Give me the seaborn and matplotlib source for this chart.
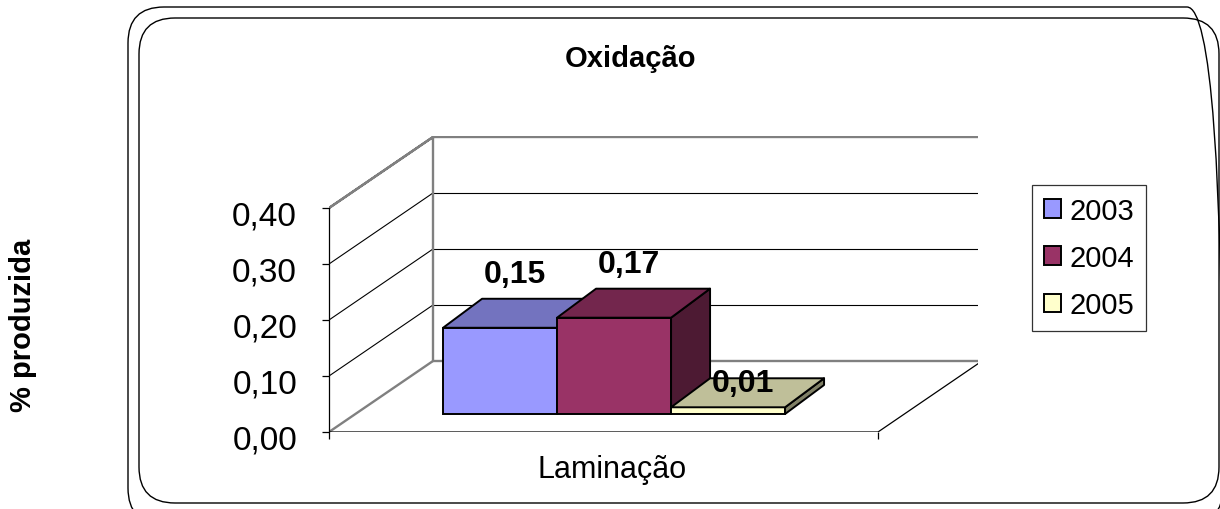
import numpy as np
import pandas as pd
import matplotlib
matplotlib.use("Agg")
import matplotlib.pyplot as plt
import matplotlib.colors as mcolors
import matplotlib.transforms as mtransforms
from matplotlib.patches import Polygon, Patch, FancyBboxPatch, Rectangle
import seaborn as sns

# data
CATEGORIES = ["Laminação"]
YEARS = ["2003", "2004", "2005"]
VALUES = [0.154, 0.172, 0.012]
VALUE_LABELS = ["0,15", "0,17", "0,01"]
YTICKS = [0.0, 0.1, 0.2, 0.3, 0.4]
YTICK_LABELS = ["0,00", "0,10", "0,20", "0,30", "0,40"]
COLORS = ["#9999FF", "#993366", "#FFFFCC"]
LABEL_OFFSETS = [22.7, 22.7, 1.0]   # points above the bar top

sns.set_theme(style="white")
plt.rcParams["font.family"] = ["Liberation Sans", "DejaVu Sans"]
plt.rcParams.update({"text.color": "black", "axes.labelcolor": "black",
                     "xtick.color": "black", "ytick.color": "black"})

W, H = 1220, 510
fig = plt.figure(figsize=(W / 100, H / 100), dpi=100)

# background layer in pixel coords for the rounded frames
bg = fig.add_axes([0, 0, 1, 1], zorder=-5)
bg.set_xlim(0, W)
bg.set_ylim(0, H)
bg.axis("off")
for (x0, y0, x1, y1) in [(128, 8, 1223, 525), (139, 19, 1219, 504)]:
    bg.add_patch(FancyBboxPatch((x0, H - y1), x1 - x0, y1 - y0,
                                boxstyle="round,pad=0,rounding_size=36",
                                fc="none", ec="black", lw=1.0))

# main axes: front plane of the pseudo-3D chart
ax = fig.add_axes([329 / W, (H - 433) / H, 649 / W, 296 / H])
ax.patch.set_visible(False)

df = pd.DataFrame({"cat": CATEGORIES * len(YEARS), "year": YEARS, "val": VALUES})
sns.barplot(data=df, x="cat", y="val", hue="year", hue_order=YEARS,
            palette=COLORS, saturation=1, errorbar=None, legend=False,
            edgecolor="black", linewidth=1.4, ax=ax)
bars = sorted([p for p in ax.patches if isinstance(p, Rectangle) and p.get_width() > 0],
              key=lambda p: p.get_x())

PXU = 427.5          # pixels per x unit
PYU = 560.0          # pixels per y unit
X0 = -0.606
ax.set_xlim(X0, X0 + 649 / PXU)
ax.set_ylim(0, 296 / PYU)

FW = 549 / PXU       # floor width
DX, DY = 104 / PXU, 71 / PYU          # full depth shift
BX, BY = 26 / PXU, 18 / PYU           # bar front face depth
BDX, BDY = 39 / PXU, 29 / PYU         # bar depth
TOP = YTICKS[-1]
grey = "#808080"

# side wall, back wall
ax.add_patch(Polygon([(X0, 0), (X0 + DX, DY), (X0 + DX, TOP + DY), (X0, TOP)],
                     closed=True, fc="white", ec="none", zorder=0))
ax.add_patch(Polygon([(X0 + DX, DY), (X0 + DX + FW, DY), (X0 + DX + FW, TOP + DY),
                      (X0 + DX, TOP + DY)], closed=True, fc="white", ec="none", zorder=0))
for t in YTICKS[1:-1]:
    ax.plot([X0, X0 + DX], [t, t + DY], color="black", lw=0.8, zorder=1)
    ax.plot([X0 + DX, X0 + DX + FW], [t + DY, t + DY], color="black", lw=0.8, zorder=1)
# grey wall edges
ax.plot([X0, X0 + DX, X0 + DX + FW, X0 + DX + FW, X0 + DX, X0 + DX, X0],
        [TOP, TOP + DY, TOP + DY, DY, DY, TOP + DY, TOP],
        color=grey, lw=1.7, zorder=1.5, solid_joinstyle="miter")
ax.plot([X0, X0 + DX], [0, DY], color=grey, lw=1.7, zorder=1.5)
# floor front and right edges
ax.plot([X0, X0 + FW, X0 + FW + DX], [0, 0, DY], color="black", lw=0.9, zorder=1.6)

# turn the flat bars into boxes
for i, (bar, col, lab, off) in enumerate(zip(bars, COLORS, VALUE_LABELS, LABEL_OFFSETS)):
    x, w, h = bar.get_x() + BX, bar.get_width(), bar.get_height()
    y = BY
    bar.set_x(x)
    bar.set_y(y)
    z = 3 + i
    bar.set_zorder(z)
    rgb = np.array(mcolors.to_rgb(col))
    top = Polygon([(x, y + h), (x + w, y + h), (x + w + BDX, y + h + BDY), (x + BDX, y + h + BDY)],
                  closed=True, fc=rgb * 0.75, ec="black", lw=1.4, zorder=z, joinstyle="round")
    side = Polygon([(x + w, y), (x + w + BDX, y + BDY), (x + w + BDX, y + h + BDY), (x + w, y + h)],
                   closed=True, fc=rgb * 0.5, ec="black", lw=1.4, zorder=z, joinstyle="round")
    ax.add_patch(side)
    ax.add_patch(top)
    ax.annotate(lab, (x + w / 2 + BDX / 2 - 0.01, y + h + BDY / 2), xytext=(0, off),
                textcoords="offset points", ha="center", va="baseline",
                fontsize=23, fontweight="bold", color="black", zorder=10)

# axes decoration
for s in ["top", "right", "bottom"]:
    ax.spines[s].set_visible(False)
ax.spines["left"].set_bounds(0, TOP)
ax.spines["left"].set_color("black")
ax.spines["left"].set_linewidth(0.9)
ax.set_yticks(YTICKS)
ax.set_yticklabels(YTICK_LABELS, fontsize=24)
ax.tick_params(axis="y", left=True, length=5, width=0.9, color="black", pad=18)
shift = mtransforms.ScaledTranslation(0, -5 / 100, fig.dpi_scale_trans)
for lbl in ax.get_yticklabels():
    lbl.set_transform(lbl.get_transform() + shift)
ax.set_xticks([X0 + FW / 2 + 0.02])
ax.set_xticklabels(CATEGORIES, fontsize=22)
ax.tick_params(axis="x", bottom=True, length=0, pad=16)
ax.set_xticks([X0, X0 + FW], minor=True)
ax.tick_params(axis="x", which="minor", bottom=True, length=5, width=0.9, color="black")
ax.set_xlabel("")
ax.set_ylabel("")

fig.text(631 / W, 1 - 59 / H, "Oxidação", ha="center", va="center",
         fontsize=21, fontweight="bold")
fig.text(23 / W, 1 - 325 / H, "% produzida", ha="center", va="center",
         rotation=90, fontsize=21, fontweight="bold")

handles = [Patch(fc=c, ec="black", lw=1.4) for c in COLORS]
leg = fig.legend(handles, YEARS, loc="upper left", bbox_to_anchor=(1032 / W, 1 - 186 / H),
                 fontsize=21, frameon=True, fancybox=False, shadow=False,
                 handlelength=0.6, handleheight=0.6, handletextpad=0.3,
                 labelspacing=0.66, borderpad=0.4, borderaxespad=0)
leg.get_frame().set_edgecolor("black")
leg.get_frame().set_linewidth(0.9)

fig.savefig("out.png", dpi=100)
